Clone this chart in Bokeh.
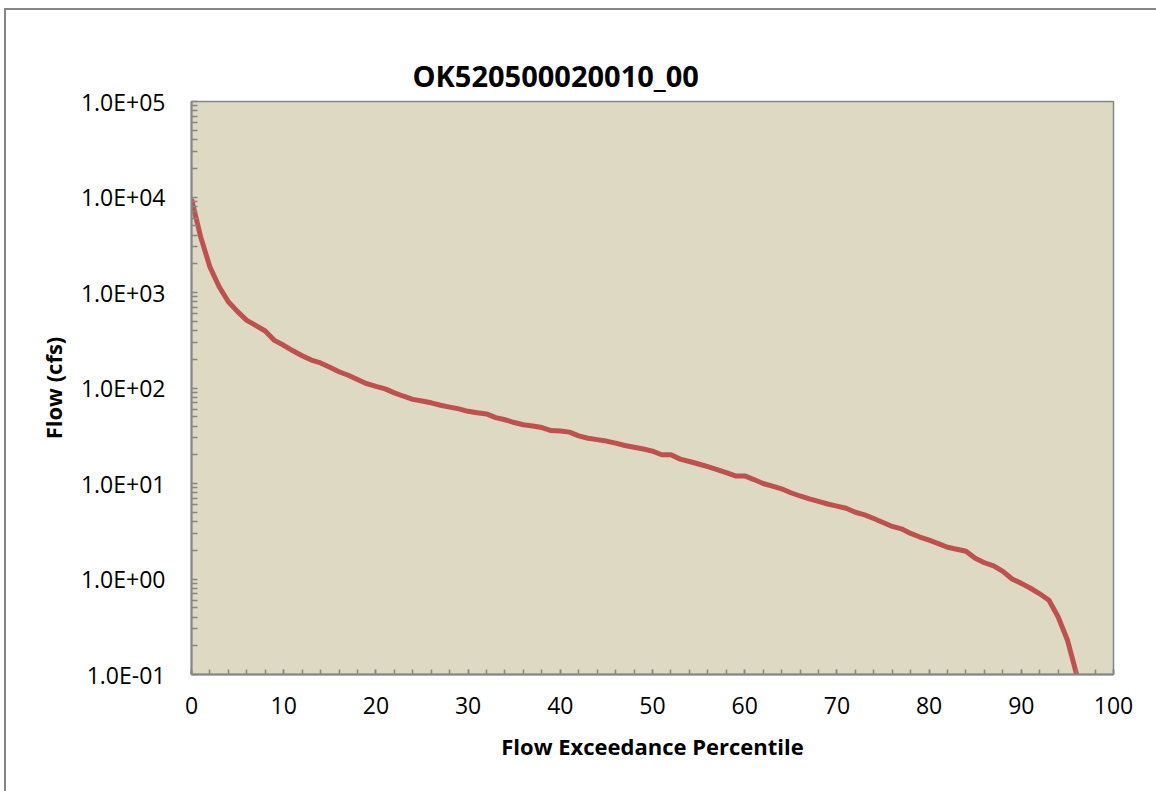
from bokeh.plotting import figure
from bokeh.models import Range1d, FixedTicker, CustomJSTickFormatter, InlineStyleSheet
from bokeh.embed import file_html
from bokeh.resources import INLINE

# ---- data ----
percentile = list(range(0, 97))
flow_cfs = [
    9500, 3800, 1850, 1150, 800, 630, 510, 450, 395, 315,
    280, 245, 218, 196, 183, 165, 148, 136, 123, 111,
    104, 98, 89, 82, 76, 73, 70, 66, 63, 60.5,
    57, 55, 53.5, 49, 46.5, 43.5, 41.2, 40, 38.5, 35.8,
    35.5, 34.5, 31.5, 29.8, 28.8, 27.8, 26.5, 25, 24, 23,
    21.8, 20, 20, 18, 17, 16, 15, 14, 13, 12,
    12, 11, 10, 9.4, 8.8, 8, 7.4, 6.9, 6.5, 6.1,
    5.8, 5.5, 5, 4.7, 4.3, 3.9, 3.55, 3.35, 3.0, 2.75,
    2.55, 2.35, 2.15, 2.05, 1.95, 1.65, 1.48, 1.37, 1.2, 1.0,
    0.9, 0.8, 0.7, 0.6, 0.4, 0.23, 0.1,
]
x_ticks = [0, 10, 20, 30, 40, 50, 60, 70, 80, 90, 100]
x_minor = list(range(0, 101, 2))
y_ticks = [0.1, 1, 10, 100, 1000, 10000, 100000]
y_minor = [m * d for d in [0.1, 1, 10, 100, 1000, 10000] for m in range(2, 10)]

title_text = "OK520500020010_00"
x_label = "Flow Exceedance Percentile"
y_label = "Flow (cfs)"

FONT = "Open Sans"
GRAY = "#868686"

p = figure(width=1156, height=791, y_axis_type="log",
           x_range=Range1d(0, 100), y_range=Range1d(0.1, 100000),
           output_backend="svg", toolbar_location=None,
           min_border_left=191, min_border_right=43,
           min_border_top=101, min_border_bottom=117)

p.background_fill_color = "#DDD9C3"
p.border_fill_color = "white"
p.outline_line_color = GRAY
p.outline_line_width = 1.5
p.grid.visible = False

p.title.text = title_text
p.title.text_font = FONT
p.title.text_font_size = "29px"
p.title.text_font_style = "bold"
p.title.text_color = "black"
p.title.align = "left"
p.title.offset = 221
p.title.standoff = 14

p.line(percentile, flow_cfs, line_color="#C0504D", line_width=5)

for ax in (p.xaxis[0], p.yaxis[0]):
    ax.axis_line_color = GRAY
    ax.axis_line_width = 2
    ax.major_tick_line_color = GRAY
    ax.minor_tick_line_color = GRAY
    ax.major_tick_line_width = 1.5
    ax.minor_tick_line_width = 1.5
    ax.major_tick_out = 0
    ax.minor_tick_out = 0
    ax.major_label_text_font = FONT
    ax.major_label_text_font_size = "23px"
    ax.major_label_text_color = "black"
    ax.axis_label_text_font = FONT
    ax.axis_label_text_font_size = "22px"
    ax.axis_label_text_font_style = "bold"
    ax.axis_label_text_color = "black"

xa = p.xaxis[0]
xa.ticker = FixedTicker(ticks=x_ticks, minor_ticks=x_minor)
xa.major_tick_in = 5
xa.minor_tick_in = 5
xa.major_label_standoff = 22
xa.axis_label = x_label
xa.axis_label_standoff = 14

ya = p.yaxis[0]
ya.ticker = FixedTicker(ticks=y_ticks, minor_ticks=y_minor)
ya.major_tick_in = 6
ya.minor_tick_in = 6
ya.major_label_standoff = 26
ya.axis_label = y_label
ya.axis_label_standoff = 10
ya.formatter = CustomJSTickFormatter(code="""
    const s = tick.toExponential(1).toUpperCase();
    return s.replace(/E([+-])(\\d)$/, 'E$10$2');
""")

# outer chart border (only its top and left edges fall inside the window)
p.stylesheets = [InlineStyleSheet(css="""
:host::after {
  content: '';
  position: absolute;
  left: 4px; top: 8px;
  width: 1400px; height: 1200px;
  border: 2px solid #868686;
  pointer-events: none;
  z-index: 100;
}
""")]

open("out.html", "w").write(file_html(p, INLINE))
